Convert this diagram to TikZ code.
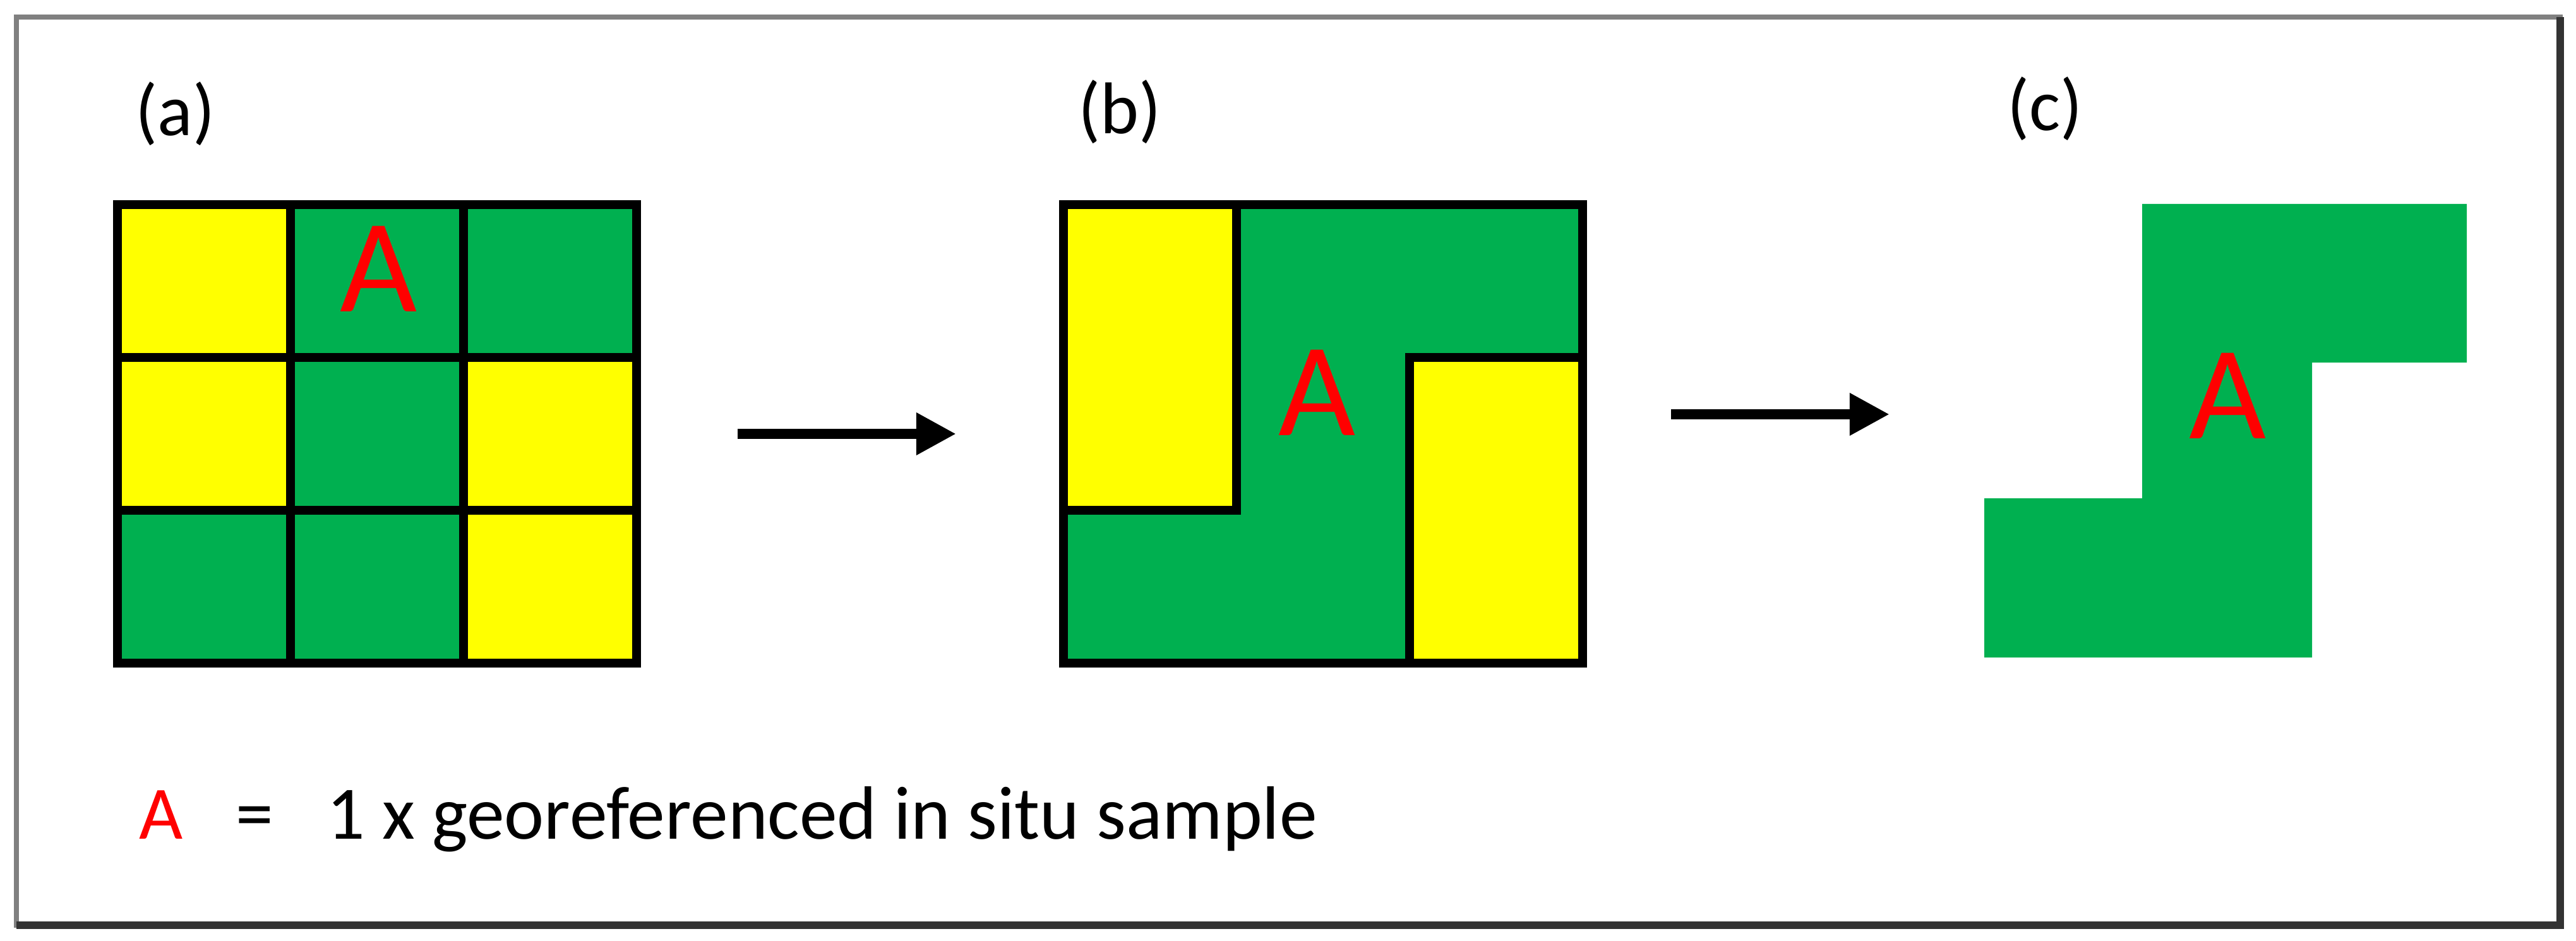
\documentclass[tikz,border=0pt]{standalone}
\usepackage{fontspec}
\setmainfont{Carlito}
\usetikzlibrary{arrows.meta, positioning}

\definecolor{cellgreen}{HTML}{00B050}
\definecolor{cellyellow}{HTML}{FFFF00}

\begin{document}
\begin{tikzpicture}[
  cell/.style={
    draw,
    line width=4pt,
    inner sep=0pt,
    outer sep=0pt,
    minimum width=2.74cm,
    minimum height=2.42cm
  },
  gcell/.style={cell, fill=cellgreen},
  ycell/.style={cell, fill=cellyellow},
  samplemark/.style={text=red, inner sep=0pt, anchor=base,
    font=\fontsize{60}{60}\selectfont},
  panlabel/.style={anchor=base west, inner sep=0pt,
    font=\fontsize{33}{36}\selectfont},
  arrow/.style={-{Triangle[length=18pt, width=18pt]}, line width=4.5pt}
]

\useasboundingbox (0,0) rectangle (40.79,-14.90);

% --- Frame ---
\draw[line width=2.5pt, black!50] (0.26,-0.27) rectangle (40.54,-14.65);
\draw[line width=3.5pt, black!80] (40.54,-0.27) -- (40.54,-14.65) -- (0.26,-14.65);

% --- Panel (a) ---
\node[panlabel] (tagA) at (2.14,-2.15) {(a)};

\node[ycell] (a11) at (3.23,-4.45) {};
\node[gcell, right=0pt of a11] (a12) {};
\node[gcell, right=0pt of a12] (a13) {};
\node[ycell, below=0pt of a11] (a21) {};
\node[gcell, right=0pt of a21] (a22) {};
\node[ycell, right=0pt of a22] (a23) {};
\node[gcell, below=0pt of a21] (a31) {};
\node[gcell, right=0pt of a31] (a32) {};
\node[ycell, right=0pt of a32] (a33) {};

\node[samplemark] (sampleA) at (6.00,-4.94) {A};

% --- Panel (b) ---
\node[panlabel] (tagB) at (17.07,-2.12) {(b)};

\node[gcell, minimum width=8.22cm, minimum height=7.26cm] (gridB) at (20.95,-6.87) {};
\node[ycell, minimum height=4.84cm, anchor=north west] (yelB1) at (gridB.north west) {};
\node[ycell, minimum height=4.84cm, anchor=south east] (yelB2) at (gridB.south east) {};

\node[samplemark] (sampleB) at (20.85,-6.89) {A};

% --- Panel (c) ---
\node[panlabel] (tagC) at (31.78,-2.07) {(c)};

\node[inner sep=0pt, outer sep=0pt, anchor=north west,
  minimum width=7.64cm, minimum height=7.18cm] (gridC) at (31.42,-3.23) {};
\fill[cellgreen] (33.92,-3.23) -- (39.06,-3.23) -- (39.06,-5.74) -- (36.61,-5.74)
  -- (36.61,-10.41) -- (31.42,-10.41) -- (31.42,-7.89) -- (33.92,-7.89) -- cycle;

\node[samplemark] (sampleC) at (35.27,-6.94) {A};

% --- Arrows ---
\coordinate (toC) at ([xshift=-15mm]gridC.west |- 0,-6.56);
\draw[arrow] ([xshift=16mm]a23.east) -- ([xshift=-17mm]gridB.west);
\draw[arrow] ([xshift=14mm]gridB.east |- toC) -- (toC);

% --- Legend ---
\node[panlabel, text=red, font=\fontsize{34}{36}\selectfont] (legA) at (2.20,-13.28) {A};
\node[panlabel, font=\fontsize{34}{36}\selectfont] (legEq) at (3.73,-13.28) {=};
\node[panlabel, font=\fontsize{34}{36}\selectfont] (legText) at (5.17,-13.28)
  {1 x georeferenced in situ sample};

\end{tikzpicture}
\end{document}
